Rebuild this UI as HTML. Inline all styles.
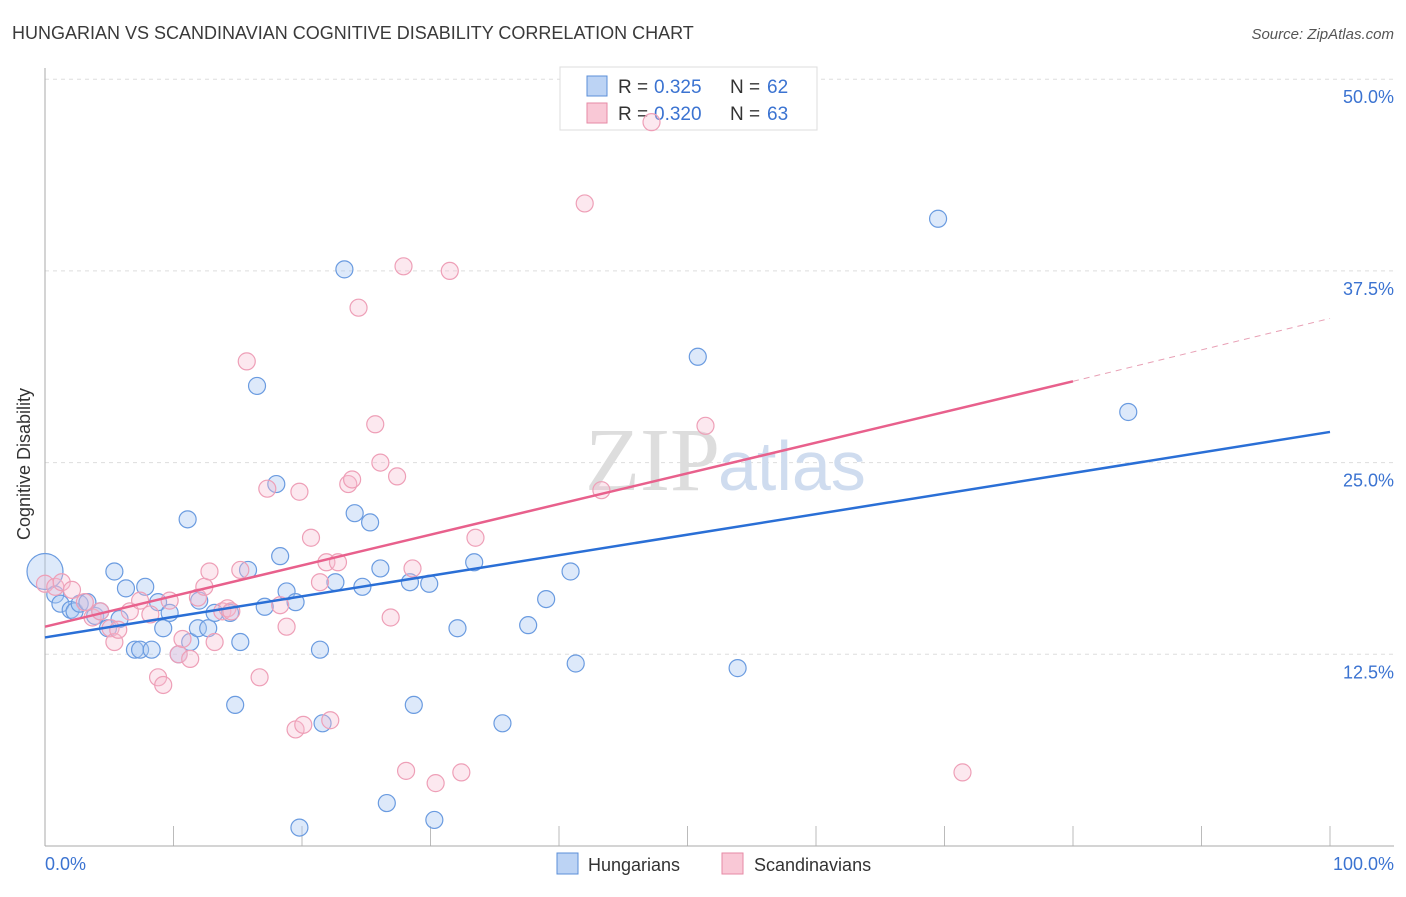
<!DOCTYPE html>
<html><head><meta charset="utf-8"><style>
body{margin:0;background:#fff;font-family:"Liberation Sans",sans-serif}
</style></head><body>
<svg width="1406" height="892" xmlns="http://www.w3.org/2000/svg">
<text x="12" y="39" font-size="18" fill="#3a3a3a">HUNGARIAN VS SCANDINAVIAN COGNITIVE DISABILITY CORRELATION CHART</text>
<text x="1394" y="39" font-size="15" fill="#555" font-style="italic" text-anchor="end">Source: ZipAtlas.com</text>
<g id="grid"></g>
<text x="720" y="490" font-size="90" fill="#ddd" text-anchor="end" font-family="Liberation Serif">ZIP</text>
<text x="718" y="490" font-size="70" fill="#cfdcef">atlas</text>
<line x1="45" y1="68" x2="45" y2="846" stroke="#aaa"/>
<line x1="45" y1="846" x2="1394" y2="846" stroke="#aaa"/>
<g>
<rect x="560" y="67" width="257" height="63" fill="#fff" stroke="#ddd"/>
<rect x="587" y="76" width="20" height="20" fill="#bcd3f4" stroke="#5b8fd8"/>
<rect x="587" y="103" width="20" height="20" fill="#f9c8d6" stroke="#e68aa5"/>
<text x="618" y="93" font-size="19" fill="#333">R =</text>
<text x="654" y="93" font-size="19" fill="#3b73d1">0.325</text>
<text x="730" y="93" font-size="19" fill="#333">N =</text>
<text x="767" y="93" font-size="19" fill="#3b73d1">62</text>
<text x="618" y="120" font-size="19" fill="#333">R =</text>
<text x="654" y="120" font-size="19" fill="#3b73d1">0.320</text>
<text x="730" y="120" font-size="19" fill="#333">N =</text>
<text x="767" y="120" font-size="19" fill="#3b73d1">63</text>
</g>
<g id="pts"></g>
<g id="trend"></g>
<text x="22" y="456" font-size="18" fill="#333" transform="rotate(-90 30 456)" text-anchor="middle">Cognitive Disability</text>
<text x="45" y="870" font-size="18" fill="#3b73d1">0.0%</text>
<text x="1394" y="870" font-size="18" fill="#3b73d1" text-anchor="end">100.0%</text>
<g>
<rect x="557" y="853" width="21" height="21" fill="#bcd3f4" stroke="#5b8fd8"/>
<text x="588" y="871" font-size="18" fill="#333">Hungarians</text>
<rect x="722" y="853" width="21" height="21" fill="#f9c8d6" stroke="#e68aa5"/>
<text x="754" y="871" font-size="18" fill="#333">Scandinavians</text>
</g>
</svg>
<script>
const yTicks=[12.5,25,37.5,50];
const yTickLabels=["12.5%","25.0%","37.5%","50.0%"];
const blueX=[0,0.8,1.2,2,2.3,2.7,3.3,3.9,4.3,4.9,5.4,5.8,6.3,7,7.4,7.8,8.3,8.8,9.2,9.7,10.4,11.1,11.3,11.9,12,12.7,13.2,14.4,14.8,15.2,15.8,16.5,17.1,18,18.3,18.8,19.5,19.8,21.4,21.6,22.6,23.3,24.1,24.7,25.3,26.1,26.6,28.4,28.7,29.9,30.3,32.1,33.4,35.6,37.6,39,40.9,41.3,50.8,53.9,69.5,84.3];
const blueY=[17.9,16.4,15.8,15.4,15.3,15.8,15.9,15,15.3,14.2,17.9,14.8,16.8,12.8,12.8,16.9,12.8,15.9,14.2,15.2,12.5,21.3,13.3,14.2,16,14.2,15.2,15.2,9.2,13.3,18,30,15.6,23.6,18.9,16.6,15.9,1.2,12.8,8,17.2,37.6,21.7,16.9,21.1,18.1,2.8,17.2,9.2,17.1,1.7,14.2,18.5,8,14.4,16.1,17.9,11.9,31.9,11.6,40.9,28.3];
const pinkX=[0,0.8,1.3,2.1,3.1,3.7,4.3,5.1,5.4,5.7,6.6,7.4,8.2,8.8,9.2,9.7,10.4,10.7,11.3,11.9,12.4,12.8,13.2,13.8,14.2,14.5,15.2,15.7,16.7,17.3,18.3,18.8,19.5,19.8,20.1,20.7,21.4,21.9,22.2,22.8,23.6,23.9,24.4,25.7,26.1,26.9,27.4,27.9,28.1,28.6,30.4,31.5,32.4,33.5,42,43.3,47.2,51.4,71.4];
const pinkY=[17.1,16.9,17.2,16.7,15.9,14.9,15.3,14.2,13.3,14.1,15.3,16,15.1,11,10.5,16,12.5,13.5,12.2,16.2,16.9,17.9,13.3,15.3,15.5,15.3,18,31.6,11,23.3,15.7,14.3,7.6,23.1,7.9,20.1,17.2,18.5,8.2,18.5,23.6,23.9,35.1,27.5,25,14.9,24.1,37.8,4.9,18.1,4.1,37.5,4.8,20.1,41.9,23.2,47.2,27.4,4.8];
const blueTrend=[13.6,27];
const pinkTrend=[14.3,30.3];
const pinkTrendEnd=34.4;
const X0=45,X1=1330,YB=846,PXPER=15.336;
const sx=v=>X0+(X1-X0)*v/100, sy=v=>YB-v*PXPER;
const NS="http://www.w3.org/2000/svg";
const grid=document.getElementById('grid');
yTicks.forEach((t,i)=>{
 const l=document.createElementNS(NS,'line');
 l.setAttribute('x1',45);l.setAttribute('x2',1394);l.setAttribute('y1',sy(t));l.setAttribute('y2',sy(t));
 l.setAttribute('stroke','#ddd');l.setAttribute('stroke-dasharray','4,4');
 
 
 grid.appendChild(l);
 const tx=document.createElementNS(NS,'text');
 tx.setAttribute('x',1394);tx.setAttribute('y',sy(t)+24);tx.setAttribute('text-anchor','end');
 tx.setAttribute('font-size','18');tx.setAttribute('fill','#3b73d1');tx.textContent=yTickLabels[i];
 
 
 grid.appendChild(tx);
});
for(let i=1;i<=10;i++){
 const x=sx(i*10);const l=document.createElementNS(NS,'line');
 l.setAttribute('x1',x);l.setAttribute('x2',x);l.setAttribute('y1',826);l.setAttribute('y2',846);l.setAttribute('stroke','#bbb');
 
 
 grid.appendChild(l);
}
const pts=document.getElementById('pts');
function dot(x,y,r,f,s,name){
 const c=document.createElementNS(NS,'circle');
 c.setAttribute('cx',sx(x));c.setAttribute('cy',sy(y));c.setAttribute('r',r);
 c.setAttribute('fill',f);c.setAttribute('stroke',s);c.setAttribute('stroke-width','1.2');
 
 
 pts.appendChild(c);
}
blueX.forEach((x,i)=>dot(x,blueY[i],i==0?18:8.5,'rgba(170,200,242,0.4)','#6a9be0','hungarian-point'));
pinkX.forEach((x,i)=>dot(x,pinkY[i],8.5,'rgba(247,190,208,0.35)','#ee9fb7','scandinavian-point'));
const tr=document.getElementById('trend');
function line(x1,y1,x2,y2,c,dash,name){
 const l=document.createElementNS(NS,'line');
 l.setAttribute('x1',sx(x1));l.setAttribute('y1',sy(y1));l.setAttribute('x2',sx(x2));l.setAttribute('y2',sy(y2));
 l.setAttribute('stroke',c);l.setAttribute('stroke-width',dash?1:2.5);if(dash)l.setAttribute('stroke-dasharray','6,5');
 
 
 tr.appendChild(l);
}
line(0,blueTrend[0],100,blueTrend[1],'#2a6fd6',false,'hungarian-trendline');
line(0,pinkTrend[0],80,pinkTrend[1],'#e8608c',false,'scandinavian-trendline');
line(80,pinkTrend[1],100,pinkTrendEnd,'#e8a0b5',true,'scandinavian-trendline-extension');
</script>
</body></html>
